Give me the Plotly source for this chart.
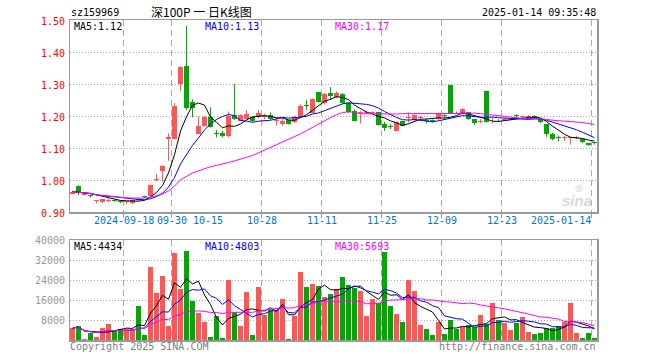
import plotly.graph_objects as go
import pandas as pd

# ---------------- data ----------------
dates = [
    "2024-09-03", "2024-09-04", "2024-09-05", "2024-09-06", "2024-09-09", "2024-09-10",
    "2024-09-11", "2024-09-12", "2024-09-13", "2024-09-18", "2024-09-19", "2024-09-20",
    "2024-09-23", "2024-09-24", "2024-09-25", "2024-09-26", "2024-09-27", "2024-09-30",
    "2024-10-08", "2024-10-09", "2024-10-10", "2024-10-11", "2024-10-14", "2024-10-15",
    "2024-10-16", "2024-10-17", "2024-10-18", "2024-10-21", "2024-10-22", "2024-10-23",
    "2024-10-24", "2024-10-25", "2024-10-28", "2024-10-29", "2024-10-30", "2024-10-31",
    "2024-11-01", "2024-11-04", "2024-11-05", "2024-11-06", "2024-11-07", "2024-11-08",
    "2024-11-11", "2024-11-12", "2024-11-13", "2024-11-14", "2024-11-15", "2024-11-18",
    "2024-11-19", "2024-11-20", "2024-11-21", "2024-11-22", "2024-11-25", "2024-11-26",
    "2024-11-27", "2024-11-28", "2024-11-29", "2024-12-02", "2024-12-03", "2024-12-04",
    "2024-12-05", "2024-12-06", "2024-12-09", "2024-12-10", "2024-12-11", "2024-12-12",
    "2024-12-13", "2024-12-16", "2024-12-17", "2024-12-18", "2024-12-19", "2024-12-20",
    "2024-12-23", "2024-12-24", "2024-12-25", "2024-12-26", "2024-12-27", "2024-12-30",
    "2024-12-31", "2025-01-02", "2025-01-03", "2025-01-06", "2025-01-07", "2025-01-08",
    "2025-01-09", "2025-01-10", "2025-01-13", "2025-01-14",
]

opens = [
    0.956, 0.982, 0.954, 0.951, 0.935, 0.930, 0.933, 0.937, 0.935, 0.930, 0.927, 0.942,
    0.949, 0.950, 0.999, 1.028, 1.128, 1.128, 1.300, 1.356, 1.245, 1.144, 1.169, 1.198,
    1.145, 1.148, 1.136, 1.203, 1.185, 1.192, 1.198, 1.196, 1.196, 1.203, 1.184, 1.175,
    1.187, 1.180, 1.198, 1.234, 1.210, 1.275, 1.240, 1.273, 1.258, 1.269, 1.240, 1.217,
    1.210, 1.210, 1.209, 1.211, 1.174, 1.168, 1.153, 1.184, 1.194, 1.187, 1.195, 1.186,
    1.187, 1.190, 1.201, 1.297, 1.212, 1.206, 1.211, 1.190, 1.182, 1.278, 1.186, 1.188,
    1.187, 1.189, 1.201, 1.197, 1.197, 1.200, 1.190, 1.174, 1.144, 1.133, 1.131, 1.131,
    1.131, 1.128, 1.115, 1.116,
]
highs = [
    0.966, 0.983, 0.960, 0.954, 0.937, 0.941, 0.941, 0.938, 0.936, 0.933, 0.938, 0.944,
    0.951, 0.986, 1.019, 1.046, 1.146, 1.240, 1.355, 1.481, 1.252, 1.198, 1.200, 1.227,
    1.156, 1.154, 1.214, 1.300, 1.205, 1.219, 1.200, 1.219, 1.208, 1.211, 1.193, 1.193,
    1.188, 1.200, 1.237, 1.250, 1.255, 1.276, 1.272, 1.290, 1.276, 1.271, 1.242, 1.221,
    1.215, 1.217, 1.214, 1.213, 1.182, 1.174, 1.183, 1.185, 1.211, 1.205, 1.200, 1.193,
    1.189, 1.210, 1.205, 1.297, 1.214, 1.224, 1.212, 1.191, 1.190, 1.279, 1.194, 1.190,
    1.193, 1.194, 1.205, 1.202, 1.203, 1.203, 1.191, 1.175, 1.148, 1.139, 1.137, 1.135,
    1.137, 1.130, 1.116, 1.118,
]
lows = [
    0.955, 0.953, 0.952, 0.945, 0.927, 0.929, 0.931, 0.932, 0.928, 0.925, 0.925, 0.935,
    0.944, 0.949, 0.995, 0.995, 1.060, 1.127, 1.278, 1.219, 1.196, 1.143, 1.167, 1.164,
    1.133, 1.133, 1.133, 1.188, 1.184, 1.192, 1.182, 1.193, 1.190, 1.188, 1.170, 1.170,
    1.173, 1.178, 1.196, 1.219, 1.208, 1.242, 1.236, 1.250, 1.255, 1.238, 1.209, 1.183,
    1.177, 1.206, 1.206, 1.170, 1.153, 1.159, 1.152, 1.168, 1.180, 1.185, 1.190, 1.177,
    1.180, 1.187, 1.193, 1.206, 1.206, 1.204, 1.188, 1.172, 1.177, 1.180, 1.177, 1.183,
    1.185, 1.187, 1.193, 1.193, 1.190, 1.191, 1.178, 1.135, 1.124, 1.120, 1.122, 1.111,
    1.127, 1.116, 1.107, 1.111,
]
closes = [
    0.964, 0.960, 0.958, 0.949, 0.937, 0.940, 0.939, 0.934, 0.930, 0.932, 0.936, 0.937,
    0.947, 0.984, 1.001, 1.045, 1.134, 1.231, 1.354, 1.224, 1.224, 1.170, 1.198, 1.167,
    1.144, 1.136, 1.200, 1.192, 1.203, 1.207, 1.184, 1.208, 1.203, 1.190, 1.186, 1.184,
    1.175, 1.198, 1.231, 1.232, 1.253, 1.244, 1.270, 1.262, 1.273, 1.240, 1.211, 1.185,
    1.213, 1.212, 1.211, 1.172, 1.163, 1.166, 1.182, 1.170, 1.198, 1.203, 1.196, 1.185,
    1.182, 1.205, 1.200, 1.208, 1.211, 1.222, 1.190, 1.177, 1.183, 1.182, 1.187, 1.186,
    1.190, 1.192, 1.199, 1.198, 1.199, 1.193, 1.180, 1.144, 1.127, 1.132, 1.132, 1.133,
    1.133, 1.118, 1.109, 1.115,
]
volumes = [
    4700, 5700, 500, 2800, 1300, 5000, 6400, 3500, 4300, 4500, 4500, 13600,
    2000, 29300, 18900, 25700, 5600, 34900, 20400, 35700, 15700, 10900, 7300, 1300,
    9800, 700, 24000, 11300, 5600, 19200, 2000, 21200, 10000, 12000, 12000, 16400,
    300, 9600, 27200, 21200, 22400, 21600, 17200, 18400, 20400, 25200, 22000, 20800,
    19600, 9600, 16400, 14800, 35200, 13600, 10400, 7200, 24000, 19600, 6000, 4400,
    2000, 7200, 2400, 8000, 4400, 5200, 6000, 5200, 10000, 6400, 15000, 8000,
    6800, 4000, 6800, 9360, 3200, 2400, 3000, 5000, 5000, 5800, 7060, 15000,
    2700, 800, 2700, 970,
]

tick_dates = ["2024-09-18", "2024-09-30", "2024-10-15", "2024-10-28", "2024-11-11",
              "2024-11-25", "2024-12-09", "2024-12-23", "2025-01-14"]
tick_labels = ["2024-09-18", "09-30", "10-15", "10-28", "11-11",
               "11-25", "12-09", "12-23", "2025-01-14"]
grid_dates = ["2024-09-18", "2024-09-30", "2024-10-28", "2024-11-11",
              "2024-11-25", "2024-12-09", "2024-12-23", "2025-01-14"]
price_ticks = [0.90, 1.00, 1.10, 1.20, 1.30, 1.40, 1.50]
vol_ticks = [8000, 16000, 24000, 32000, 40000]

code = "sz159969"
title = "深100P 一 日K线图"
timestamp = "2025-01-14 09:35:48"

# ---------------- styling ----------------
W, H = 660, 360
RED = "#ff5555"
GREEN = "#00a800"
MONO = "DejaVu Sans Mono"
L, R = 70, 597
TOP1, BOT1 = 20, 212
TOP2, BOT2 = 240, 340

def px(x):
    return x / W

def py(y):
    return 1 - y / H

n = len(dates)
xs = list(range(n))
off = 0.42  # tick lines sit slightly left of bar centres
up = [c >= o for o, c in zip(opens, closes)]
cols = [RED if u else GREEN for u in up]

s = pd.Series(closes)
ma5 = s.rolling(5, min_periods=1).mean()
ma10 = s.rolling(10, min_periods=1).mean()
ma30 = s.rolling(30, min_periods=1).mean()
v = pd.Series(volumes, dtype=float)
vma5 = v.rolling(5, min_periods=1).mean()
vma10 = v.rolling(10, min_periods=1).mean()
vma30 = v.rolling(30, min_periods=1).mean()

fig = go.Figure()

# wicks
for colr, flag in ((RED, True), (GREEN, False)):
    wx, wy = [], []
    for i in xs:
        if up[i] == flag:
            wx += [i, i, None]
            wy += [lows[i], highs[i], None]
    fig.add_trace(go.Scatter(x=wx, y=wy, mode="lines", line=dict(color=colr, width=1),
                             hoverinfo="skip", xaxis="x", yaxis="y"))

# bodies
base = [min(o, c) for o, c in zip(opens, closes)]
hgt = [max(abs(c - o), 0.003) for o, c in zip(opens, closes)]
fig.add_trace(go.Bar(x=xs, y=hgt, base=base, width=0.83, marker=dict(color=cols, line=dict(width=0)),
                     xaxis="x", yaxis="y"))

for ser, colr in ((ma5, "black"), (ma10, "#0000ff"), (ma30, "#ff00ff")):
    fig.add_trace(go.Scatter(x=xs, y=ser, mode="lines", line=dict(color=colr, width=1),
                             xaxis="x", yaxis="y"))

# volume
fig.add_trace(go.Bar(x=xs, y=volumes, width=0.83, marker=dict(color=cols, line=dict(width=0)),
                     xaxis="x2", yaxis="y2"))
for ser, colr in ((vma5, "black"), (vma10, "#0000ff"), (vma30, "#ff00ff")):
    fig.add_trace(go.Scatter(x=xs, y=ser, mode="lines", line=dict(color=colr, width=1),
                             xaxis="x2", yaxis="y2"))

grid_pos = [dates.index(d) - off for d in grid_dates]
xrange = [-0.417, n - 1 + 0.42]
axcommon = dict(domain=[px(L), px(R)], range=xrange, showgrid=True, gridcolor="#aaaaaa",
                griddash="6px,4px", gridwidth=1, tickvals=grid_pos, ticks="outside", ticklen=4,
                tickcolor="#999999", showticklabels=False, zeroline=False, showline=True,
                mirror=True, linecolor="#999999", linewidth=1.5, fixedrange=True)

fig.update_layout(
    width=W, height=H, margin=dict(l=0, r=0, t=0, b=0),
    paper_bgcolor="white", plot_bgcolor="white", showlegend=False, bargap=0,
    xaxis=dict(anchor="y", **axcommon),
    xaxis2=dict(anchor="y2", **{**axcommon, "ticks": ""}),
    yaxis=dict(domain=[py(BOT1), py(TOP1)], range=[0.90, 1.50], tickvals=price_ticks,
               showgrid=True, gridcolor="#aaaaaa", griddash="1px,2px", showticklabels=False,
               ticks="", zeroline=False, showline=True, mirror=True, linecolor="#999999",
               linewidth=1.5, anchor="x", fixedrange=True),
    yaxis2=dict(domain=[py(BOT2), py(TOP2)], range=[0, 40000], tickvals=vol_ticks,
                showgrid=True, gridcolor="#aaaaaa", griddash="1px,2px", showticklabels=False,
                ticks="", zeroline=False, showline=True, mirror=True, linecolor="#999999",
                linewidth=1.5, anchor="x2", fixedrange=True),
)

ann = []

def add(text, x, y, color="black", size=10, xanchor="left", family=MONO, xref="paper", yref="paper", **kw):
    ann.append(dict(text=text, x=x, y=y, xref=xref, yref=yref, showarrow=False,
                    xanchor=xanchor, yanchor="middle", font=dict(family=family, size=size, color=color),
                    borderpad=0, **kw))

add(code, px(70), py(13))
add(title, px(150), py(11.5), size=12, family="Noto Sans CJK SC")
add(timestamp, px(597), py(13), xanchor="right")

add("MA5:%.2f" % ma5.iloc[-1], px(73), py(26.5))
add("MA10:%.2f" % ma10.iloc[-1], px(204), py(26.5), color="#0000ff")
add("MA30:%.2f" % ma30.iloc[-1], px(334), py(26.5), color="#ff00ff")
add("MA5:%d" % round(vma5.iloc[-1]), px(73), py(246.5))
add("MA10:%d" % round(vma10.iloc[-1]), px(204), py(246.5), color="#0000ff")
add("MA30:%d" % round(vma30.iloc[-1]), px(334), py(246.5), color="#ff00ff")

for p in price_ticks:
    add("%.2f" % p, px(66), p, color="#ff0000", xanchor="right", yref="y", yshift=-1)
for vt in vol_ticks:
    add(str(vt), px(66), vt, color="#999999", xanchor="right", yref="y2")

for d, lab in zip(tick_dates, tick_labels):
    xa = "right" if d == dates[-1] else "center"
    add(lab, dates.index(d) - off, py(220), color="#0077cc", xanchor=xa, xref="x")

add("Copyright 2025 SINA.COM", px(69), py(346), color="#808080")
add("http://finance.sina.com.cn", px(597), py(346), color="#808080", xanchor="right")
add("<i><b>sina</b></i>", px(577), py(200), color="#d8d8d8", size=15, xanchor="center",
    family="Liberation Sans")
add("◎", px(579), py(188), color="#e3c0c0", size=9, xanchor="center", family="DejaVu Sans")

fig.update_layout(annotations=ann)
fig.write_html("out.html",
               config={"displayModeBar": False, "staticPlot": True},
               post_script="document.body.style.margin='0';document.body.style.padding='0';"
                           "document.body.style.overflow='hidden';")
